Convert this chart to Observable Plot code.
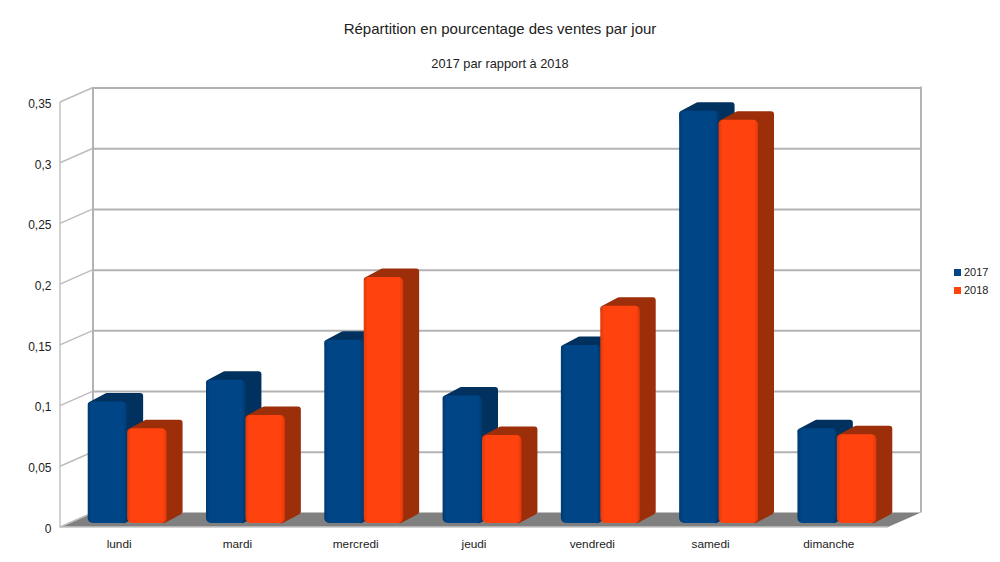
<!DOCTYPE html>
<html lang="fr">
<head>
<meta charset="utf-8">
<script src="https://cdn.jsdelivr.net/npm/d3@7"></script>
<script src="https://cdn.jsdelivr.net/npm/@observablehq/plot@0.6"></script>
<style>
  html, body { margin: 0; padding: 0; background: #fff; }
  body { width: 1000px; height: 562px; position: relative; overflow: hidden; font-family: "Liberation Sans", Arial, sans-serif; color: #222; }
  #title { position: absolute; left: 0; width: 1000px; top: 20px; text-align: center; font-size: 15px; line-height: 18px; }
  #subtitle { position: absolute; left: 0; width: 1000px; top: 56px; text-align: center; font-size: 12.8px; line-height: 16px; }
  #chart { position: absolute; left: 0; top: 80px; }
  #legend { position: absolute; left: 954px; top: 263px; font-size: 11px; line-height: 18px; }
  #legend div { display: flex; align-items: center; height: 18px; }
  #legend i { display: inline-block; width: 7px; height: 7px; margin-right: 3px; }
</style>
</head>
<body>
<div id="title">Répartition en pourcentage des ventes par jour</div>
<div id="subtitle">2017 par rapport à 2018</div>
<div id="chart"></div>
<div id="legend"></div>
<script>
const days = ["lundi", "mardi", "mercredi", "jeudi", "vendredi", "samedi", "dimanche"];
const sales2017 = [0.1, 0.118, 0.151, 0.105, 0.1466, 0.3395, 0.078];
const sales2018 = [0.078, 0.089, 0.2026, 0.0725, 0.179, 0.332, 0.073];
const yTicks = [0, 0.05, 0.1, 0.15, 0.2, 0.25, 0.3, 0.35];
const seriesNames = ["2017", "2018"];
const frontColors = ["#004586", "#ff420e"];
const edgeColors = ["#00396f", "#e0390b"];
const depthColors = ["#00315f", "#9c2e0a"];

const wallDx = 33, wallDy = -14.5;   // depth of the chart box
const barDx = 8, barDy = -4;         // bars stand inside the floor
const depthDx = 16, depthDy = -8.5;  // depth of one bar
const gridColor = "#b3b3b3";
const bandStep = (888 - 60) / days.length;
const halfBar = bandStep * (2 / 3) / 2;

const rows = seriesNames.map((_, s) =>
  days.map((day, i) => ({day, value: (s === 0 ? sales2017 : sales2018)[i]})));

function gradients() {
  const defs = d3.create("svg:defs");
  frontColors.forEach((c, s) => {
    const g = defs.append("linearGradient").attr("id", `front${s}`);
    [[0, edgeColors[s]], [0.1, c], [0.9, c], [1, edgeColors[s]]].forEach(([o, col]) =>
      g.append("stop").attr("offset", o).attr("stop-color", col));
  });
  return defs.node();
}

function wallMark() {
  return Plot.ruleY(yTicks, {
    render(index, {y}, values, {width, marginLeft, marginRight}) {
      const left = marginLeft, right = width - marginRight;
      const y0 = y(0), yTop = y(yTicks[yTicks.length - 1]);
      const g = d3.create("svg:g").attr("fill", "none");
      // floor
      g.append("polygon")
        .attr("fill", "#808080")
        .attr("points", [[left, y0], [right, y0], [right + wallDx, y0 + wallDy], [left + wallDx, y0 + wallDy]].join(" "));
      // front bottom edge and left edge
      g.append("path").attr("stroke", "#c4c4c4").attr("stroke-width", 1.5)
        .attr("d", `M${left},${yTop}V${y0}H${right}`);
      // left wall diagonals
      for (const t of yTicks) {
        g.append("line").attr("stroke", "#bdbdbd").attr("stroke-width", 1.5)
          .attr("x1", left).attr("y1", y(t)).attr("x2", left + wallDx).attr("y2", y(t) + wallDy);
      }
      // back wall verticals
      g.append("path").attr("stroke", gridColor).attr("stroke-width", 2)
        .attr("d", `M${left + wallDx},${yTop + wallDy}V${y0 + wallDy}M${right + wallDx},${yTop + wallDy - 1}V${y0 + wallDy}`);
      return g.node();
    }
  });
}

function depthMark(s) {
  const data = rows[s];
  const c = 3; // corner softening
  return Plot.barY(data, {
    x: "day", y: "value",
    render(index, {x, y}) {
      const g = d3.create("svg:g");
      for (const i of index) {
        const l = x(data[i].day) + s * halfBar + barDx;
        const r = l + halfBar;
        const t = y(data[i].value) + barDy;
        const b = y(0) + barDy;
        g.append("polygon")
          .attr("fill", depthColors[s]).attr("stroke", depthColors[s])
          .attr("stroke-width", 2 * c).attr("stroke-linejoin", "round")
          .attr("points", [[l + c, t + c], [l + depthDx + c, t + depthDy + c], [r + depthDx - c, t + depthDy + c],
                           [r + depthDx - c, b + depthDy - c], [r - c, b - c]].join(" "));
      }
      return g.node();
    }
  });
}

function frontMark(s) {
  return Plot.barY(rows[s], {
    x: "day", y: "value",
    insetLeft: s === 0 ? 0 : halfBar,
    insetRight: s === 0 ? halfBar : 0,
    dx: barDx, dy: barDy,
    fill: `url(#front${s})`,
    rx: 5
  });
}

const plot = Plot.plot({
  width: 1000,
  height: 482,
  marginTop: 22,
  marginBottom: 35,
  marginLeft: 60,
  marginRight: 112,
  style: {background: "transparent", fontFamily: "'Liberation Sans', Arial, sans-serif", fontSize: "12px", color: "#222"},
  x: {domain: days, paddingInner: 1 / 3, paddingOuter: 1 / 6, round: false, label: null},
  y: {domain: [0, 0.35], label: null},
  marks: [
    gradients,
    wallMark(),
    Plot.ruleY(yTicks.slice(1), {dx: wallDx, dy: wallDy, stroke: gridColor, strokeWidth: 2}),
    depthMark(0),
    frontMark(0),
    depthMark(1),
    frontMark(1),
    Plot.axisY({ticks: yTicks, tickSize: 0, tickPadding: 9, label: null, fontSize: 12, dy: 1.5,
      tickFormat: d => String(d).replace(".", ",")}),
    Plot.axisX({tickSize: 0, tickPadding: 12, label: null, fontSize: 11.8, dx: -0.5})
  ]
});
document.getElementById("chart").appendChild(plot);

const legend = d3.select("#legend");
seriesNames.forEach((name, s) => {
  const row = legend.append("div");
  row.append("i").style("background", frontColors[s]);
  row.append("span").text(name);
});
</script>
</body>
</html>
